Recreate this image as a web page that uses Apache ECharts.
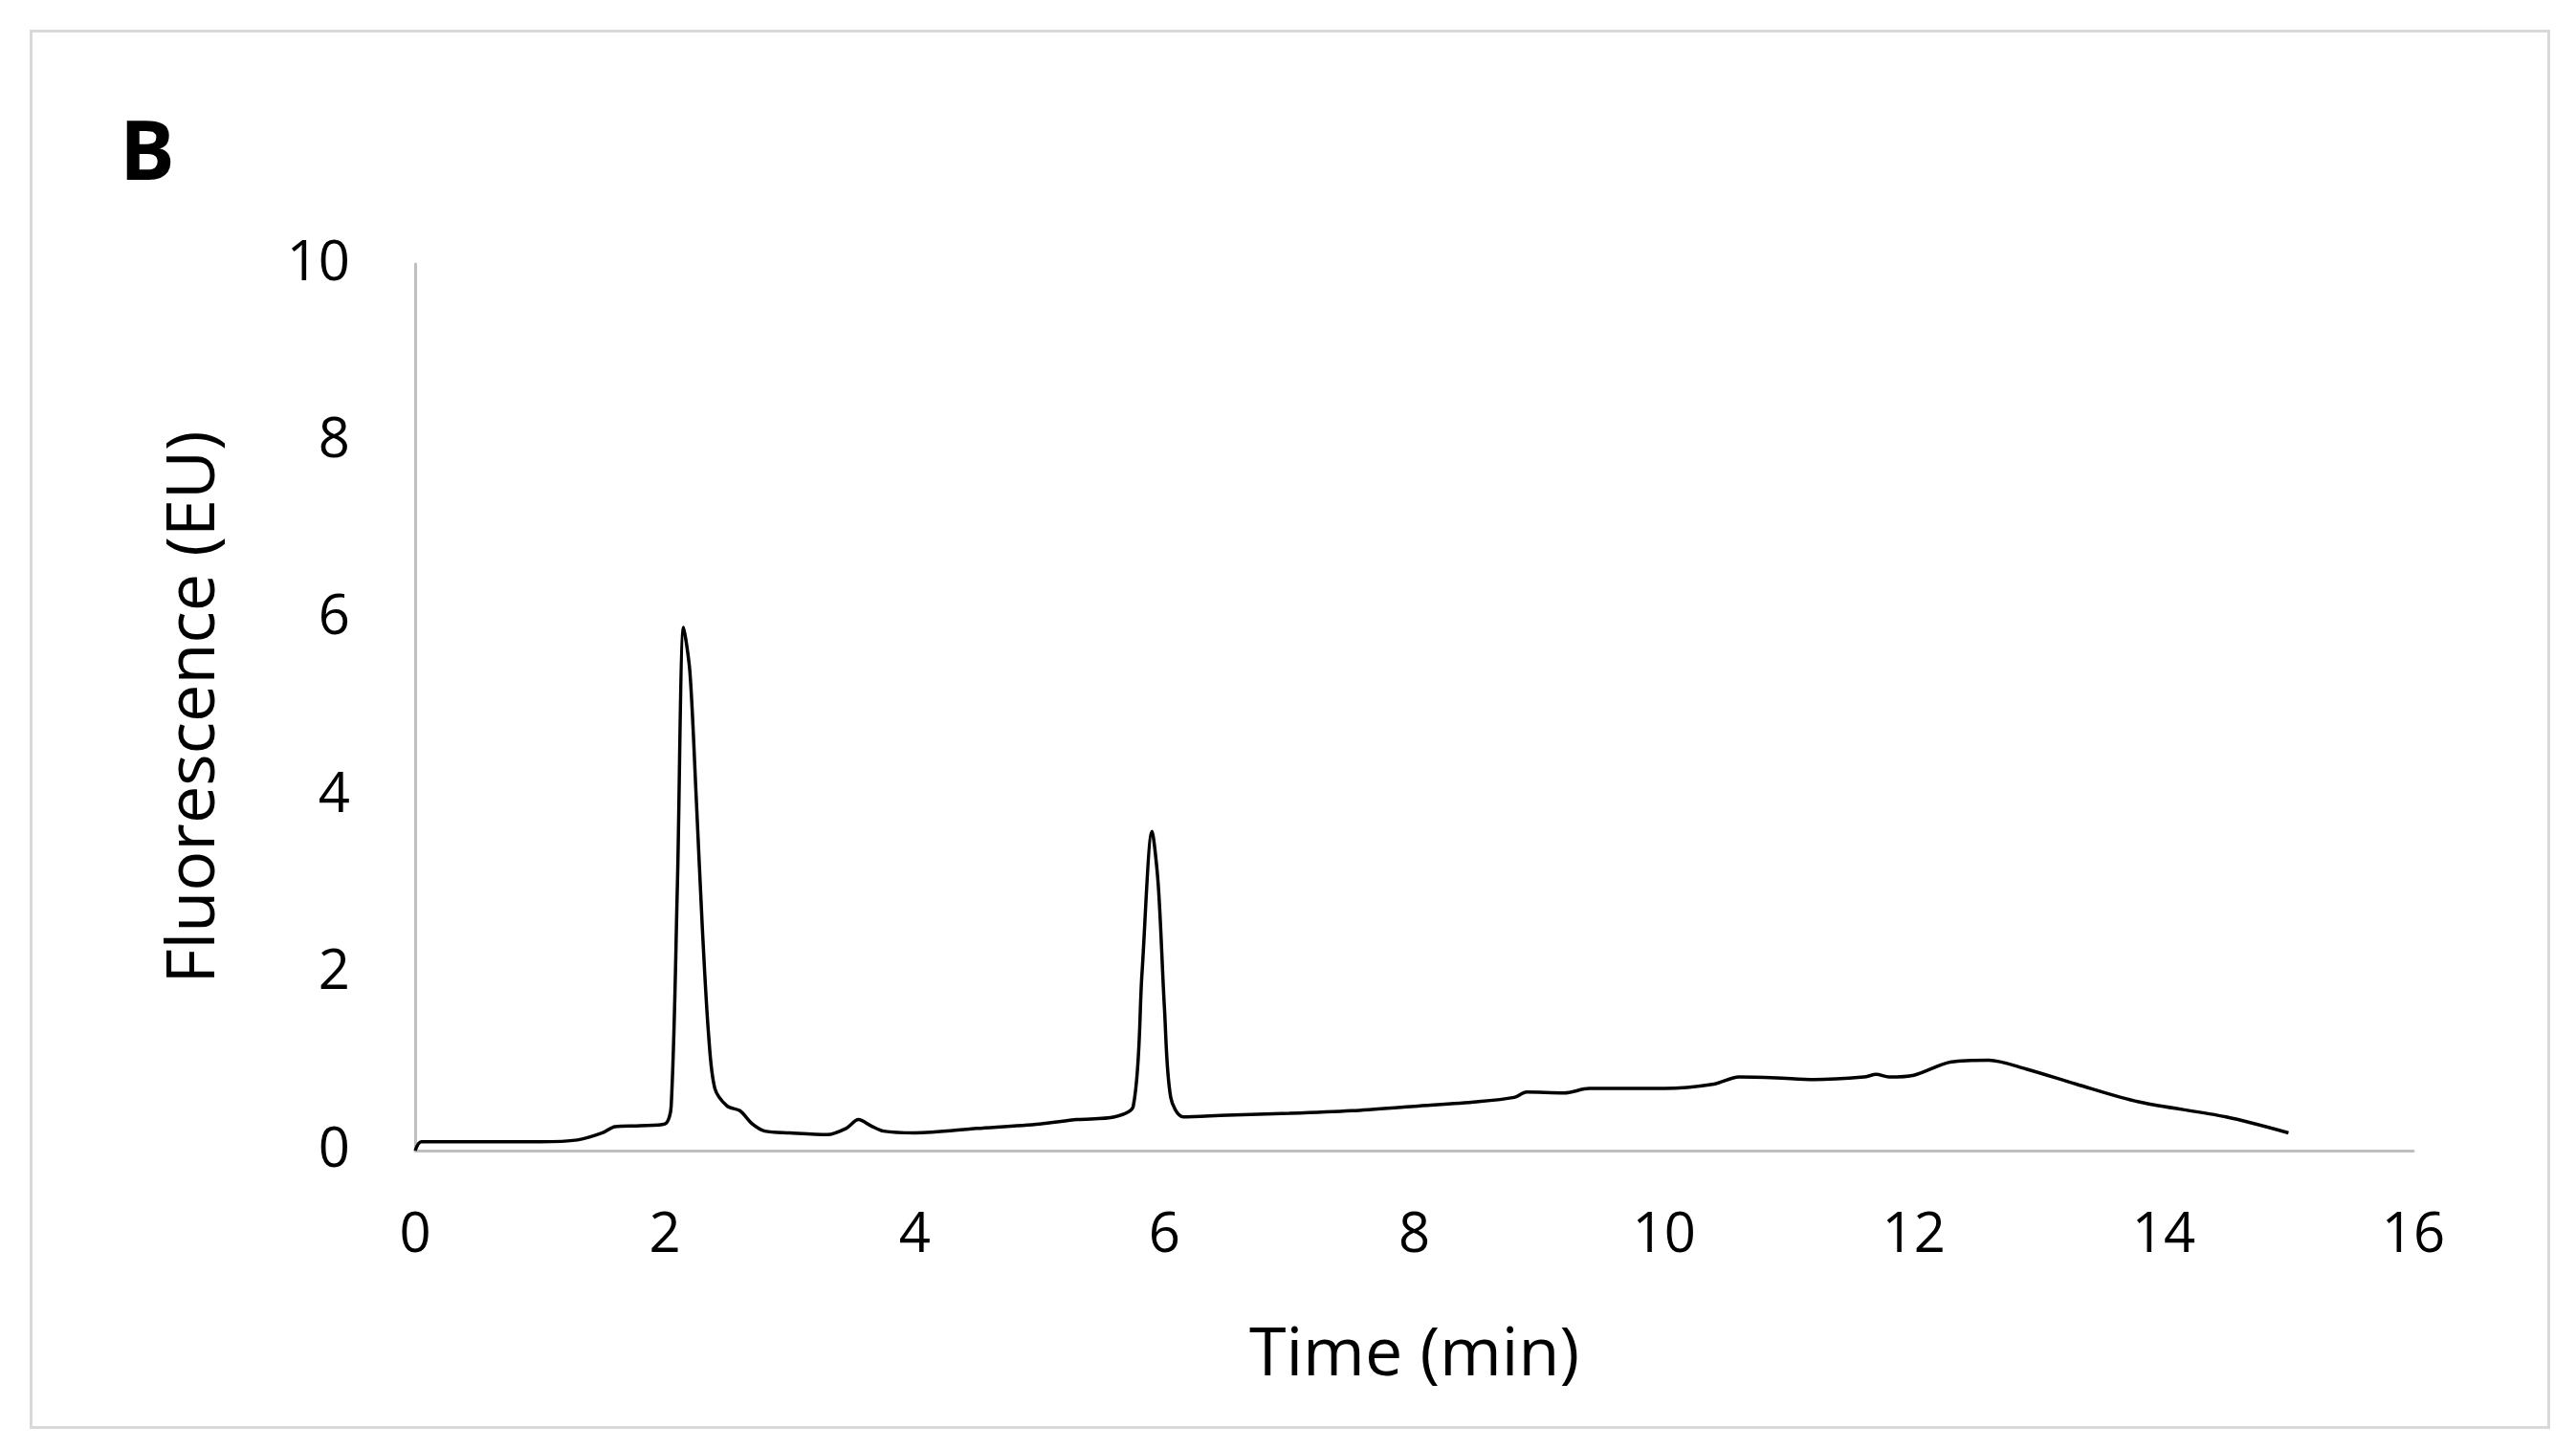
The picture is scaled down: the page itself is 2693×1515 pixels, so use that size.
<!DOCTYPE html>
<html>
<head>
<meta charset="utf-8">
<script src="https://cdn.jsdelivr.net/npm/echarts@6/dist/echarts.min.js"></script>
<style>
html,body{margin:0;padding:0;background:#fff;}
#frame{position:absolute;left:31px;top:31px;width:2629px;height:1457px;border:3px solid #d9d9d9;}
#chart{position:absolute;left:0;top:0;width:2693px;height:1515px;}
</style>
</head>
<body>
<div id="frame"></div>
<div id="chart"></div>
<script>
// time (min) and fluorescence (EU)
var times = [0,0.05,0.5,1.0,1.3,1.5,1.6,1.8,2.0,2.05,2.1,2.15,2.2,2.25,2.3,2.35,2.4,2.5,2.6,2.7,2.8,3.0,3.3,3.45,3.55,3.65,3.75,4.0,4.5,5.0,5.3,5.6,5.75,5.82,5.9,5.95,6.0,6.05,6.15,6.5,7,7.5,8,8.5,8.8,8.9,9.2,9.4,10,10.4,10.6,10.9,11.2,11.6,11.7,11.8,12.0,12.3,12.6,12.9,13.3,13.8,14.5,15];
var fluor = [0,0.1,0.1,0.1,0.12,0.2,0.27,0.28,0.3,0.5,3.0,5.9,5.4,4.0,2.5,1.3,0.7,0.5,0.45,0.3,0.22,0.2,0.18,0.25,0.35,0.28,0.22,0.2,0.25,0.3,0.35,0.38,0.5,2.0,3.6,3.0,1.6,0.6,0.38,0.4,0.42,0.45,0.5,0.55,0.6,0.66,0.65,0.7,0.7,0.75,0.83,0.82,0.8,0.83,0.86,0.83,0.85,1.0,1.02,0.92,0.75,0.55,0.38,0.2];
var xTicks = [0,2,4,6,8,10,12,14,16];

var chart = echarts.init(document.getElementById('chart'));
var font = 'Open Sans';
chart.setOption({
  animation:false,
  graphic:[{type:'text',left:125,top:120,style:{text:'B',font:'bold 86px "Open Sans"',fill:'#000'}}],
  grid:{left:434,right:170,top:276,bottom:312},
  xAxis:{
    type:'value',min:0,max:16,interval:2,
    name:'Time (min)',nameLocation:'middle',nameGap:180,
    nameTextStyle:{fontFamily:font,fontSize:70,color:'#000'},
    axisLine:{lineStyle:{color:'#bfbfbf',width:3}},
    axisTick:{show:false},splitLine:{show:false},
    axisLabel:{fontFamily:font,fontSize:58,color:'#000',margin:60,
      formatter:function(v){return xTicks.indexOf(v)>=0?String(v):'';}}
  },
  yAxis:{
    type:'value',min:0,max:10,interval:2,
    name:'Fluorescence (EU)',nameLocation:'middle',nameGap:195,
    nameTextStyle:{fontFamily:font,fontSize:70,color:'#000'},
    axisLine:{show:true,lineStyle:{color:'#bfbfbf',width:3}},
    axisTick:{show:false},splitLine:{show:false},
    axisLabel:{fontFamily:font,fontSize:58,color:'#000',margin:68}
  },
  series:[{type:'line',showSymbol:false,smooth:0.3,
    data:times.map(function(t,i){return [t,fluor[i]];}),
    lineStyle:{color:'#000',width:3.5}}]
});
</script>
</body>
</html>
